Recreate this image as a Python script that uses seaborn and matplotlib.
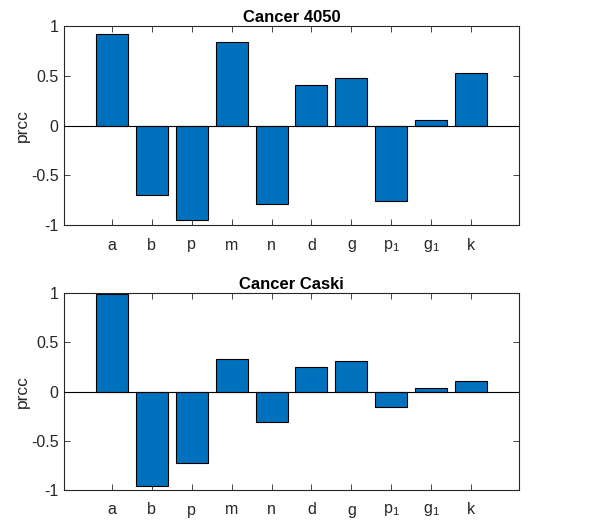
import matplotlib
matplotlib.use("Agg")
import matplotlib.pyplot as plt
import seaborn as sns
import pandas as pd

params = ["a", "b", "p", "m", "n", "d", "g", "p$_1$", "g$_1$", "k"]
prcc_4050 = [0.918, -0.700, -0.952, 0.841, -0.785, 0.405, 0.476, -0.755, 0.054, 0.526]
prcc_caski = [0.993, -0.963, -0.723, 0.328, -0.311, 0.247, 0.314, -0.155, 0.037, 0.105]
titles = ["Cancer 4050", "Cancer Caski"]
yticks = [-1, -0.5, 0, 0.5, 1]
ytick_labels = ["-1", "-0.5", "0", "0.5", "1"]

sns.set_style("white")
plt.rcParams["font.family"] = ["Liberation Sans", "DejaVu Sans"]
plt.rcParams["mathtext.fontset"] = "custom"
plt.rcParams["mathtext.rm"] = "Liberation Sans"
plt.rcParams["mathtext.it"] = "Liberation Sans"
plt.rcParams["mathtext.default"] = "regular"

fig = plt.figure(figsize=(6.07, 5.27), dpi=100)
W, H = 607, 527
axes_px = [(64, 26, 519, 225), (64, 293, 519, 490)]
gray = "#262626"

for (l, t, r, b), vals, title in zip(axes_px, [prcc_4050, prcc_caski], titles):
    ax = fig.add_axes([l / W, 1 - b / H, (r - l) / W, (b - t) / H])
    df = pd.DataFrame({"param": params, "prcc": vals})
    sns.barplot(data=df, x="param", y="prcc", ax=ax, color="#0072BD",
                saturation=1, width=0.8, edgecolor="black", linewidth=0.8)
    ax.axhline(0, color="black", linewidth=0.8, zorder=3)
    ax.set_xlim(-1.2, len(params) - 1 + 1.2)
    ax.set_ylim(-1, 1)
    ax.set_yticks(yticks)
    ax.set_yticklabels(ytick_labels)
    ax.set_xlabel("")
    ax.set_ylabel("prcc", fontsize=12.5, color=gray, labelpad=1)
    ax.set_title(title, fontsize=12, fontweight="bold", pad=3, color="black")
    for s in ax.spines.values():
        s.set_visible(True)
        s.set_color(gray)
        s.set_linewidth(0.8)
    ax.tick_params(axis="both", direction="in", length=4, width=0.6, colors=gray,
                   labelsize=11.5, top=True, right=True, bottom=True, left=True,
                   labelcolor=gray)
    ax.tick_params(axis="x", pad=9)
    ax.tick_params(axis="y", pad=4)
    ax.grid(False)

fig.savefig("out.png", dpi=100)
